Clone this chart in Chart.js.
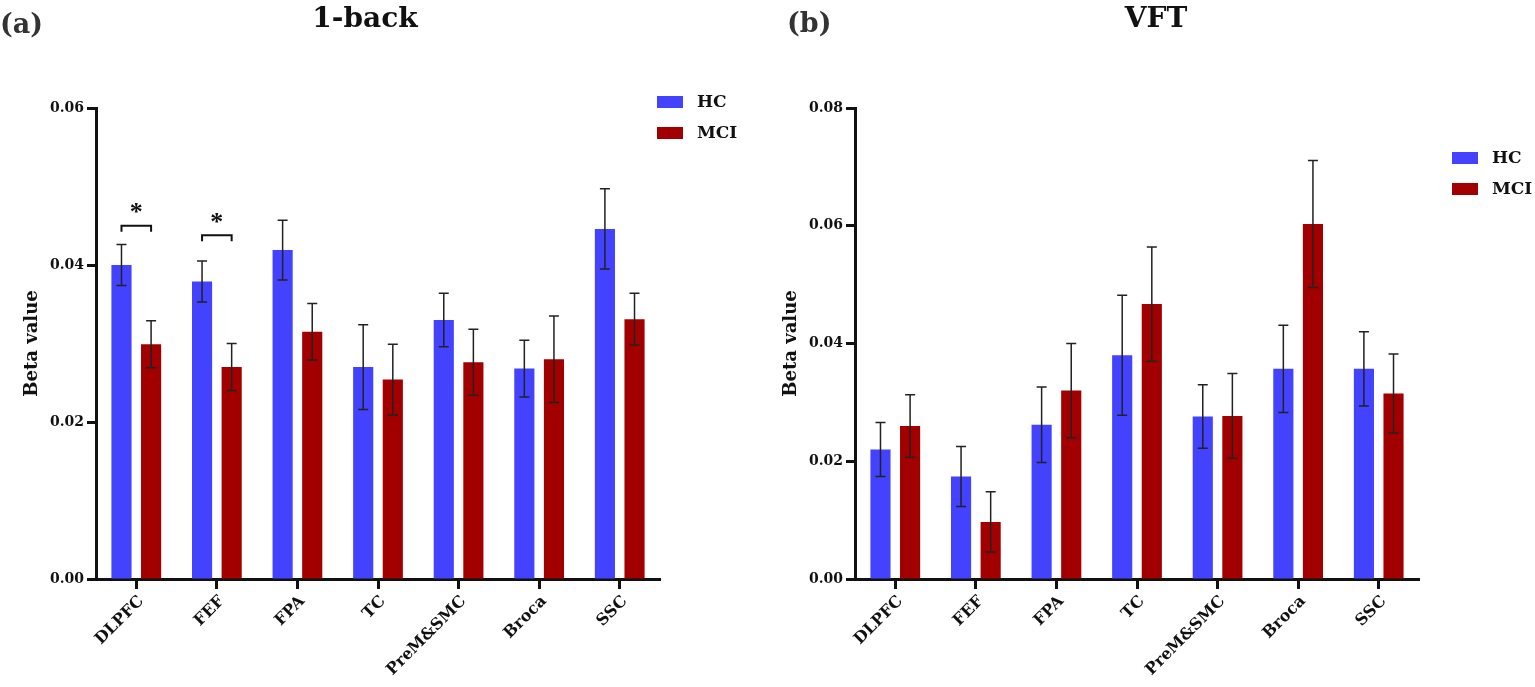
<!DOCTYPE html>
<html>
<head>
<meta charset="utf-8">
<title>1-back / VFT</title>
<script src="https://cdn.jsdelivr.net/npm/chart.js@4.4.1/dist/chart.umd.min.js"></script>
<style>
  html, body { margin: 0; padding: 0; background: #fff; }
  #wrap { position: relative; width: 1535px; height: 687px; }
  .panel { position: absolute; top: 0; height: 687px; }
</style>
</head>
<body>
<div id="wrap">
  <div class="panel" style="left:0;width:760px"><canvas id="graficoNback" width="760" height="687"></canvas></div>
  <div class="panel" style="left:760px;width:775px"><canvas id="graficoVFT" width="775" height="687"></canvas></div>
</div>
<script>
const regioes = ['DLPFC', 'FEF', 'FPA', 'TC', 'PreM&SMC', 'Broca', 'SSC'];
const grupos = ['HC', 'MCI'];

// 1-back
const nbackHC = [0.0400, 0.0379, 0.0419, 0.0270, 0.0330, 0.0268, 0.0446];
const nbackHCErr = [0.0026, 0.0026, 0.0038, 0.0054, 0.0034, 0.0036, 0.0051];
const nbackMCI = [0.0299, 0.0270, 0.0315, 0.0254, 0.0276, 0.0280, 0.0331];
const nbackMCIErr = [0.0030, 0.0030, 0.0036, 0.0045, 0.0042, 0.0055, 0.0033];
const nbackTicks = [0, 0.02, 0.04, 0.06];
const nbackSig = ['DLPFC', 'FEF'];
const nbackSigLevel = [0.0450, 0.0438];

// VFT
const vftHC = [0.0220, 0.0174, 0.0262, 0.0380, 0.0276, 0.0357, 0.0357];
const vftHCErr = [0.0046, 0.0051, 0.0064, 0.0102, 0.0054, 0.0074, 0.0063];
const vftMCI = [0.0260, 0.0097, 0.0320, 0.0467, 0.0277, 0.0603, 0.0315];
const vftMCIErr = [0.0053, 0.0051, 0.0080, 0.0097, 0.0072, 0.0108, 0.0067];
const vftTicks = [0, 0.02, 0.04, 0.06, 0.08];

const corHC = '#4242FF';
const corMCI = '#A20000';
const fonte = 'DejaVu Serif';
const preto = '#111';

// error bars, significance brackets, panel titles and legend
const desenho = {
    id: 'desenho',
    afterDatasetsDraw(chart, args, o) {
        const ctx = chart.ctx;
        const y = chart.scales.y;
        ctx.save();
        ctx.strokeStyle = '#222';
        ctx.lineWidth = 1.5;
        chart.data.datasets.forEach((ds, di) => {
            chart.getDatasetMeta(di).data.forEach((bar, i) => {
                const v = ds.data[i], e = o.erros[di][i];
                const yt = y.getPixelForValue(v + e), yb = y.getPixelForValue(v - e);
                ctx.beginPath();
                ctx.moveTo(bar.x, yt); ctx.lineTo(bar.x, yb);
                ctx.moveTo(bar.x - 5, yt); ctx.lineTo(bar.x + 5, yt);
                ctx.moveTo(bar.x - 5, yb); ctx.lineTo(bar.x + 5, yb);
                ctx.stroke();
            });
        });
        if (o.sig) {
            ctx.strokeStyle = preto;
            ctx.fillStyle = preto;
            ctx.lineWidth = 2;
            ctx.font = 'bold 26px "Liberation Serif"';
            ctx.textAlign = 'center';
            ctx.textBaseline = 'middle';
            o.sig.cats.forEach((c, k) => {
                const i = chart.data.labels.indexOf(c);
                const x1 = chart.getDatasetMeta(0).data[i].x;
                const x2 = chart.getDatasetMeta(1).data[i].x;
                const yy = y.getPixelForValue(o.sig.niveis[k]);
                ctx.beginPath();
                ctx.moveTo(x1, yy + 6); ctx.lineTo(x1, yy); ctx.lineTo(x2, yy); ctx.lineTo(x2, yy + 6);
                ctx.stroke();
                ctx.fillText('*', (x1 + x2) / 2, yy - 12);
            });
        }
        ctx.restore();
    },
    afterDraw(chart, args, o) {
        const ctx = chart.ctx;
        ctx.save();
        ctx.textBaseline = 'alphabetic';
        ctx.textAlign = 'left';
        ctx.fillStyle = '#333';
        ctx.font = 'bold 27px "' + fonte + '"';
        ctx.fillText(o.rotulo, o.rotuloX, o.rotuloY);
        ctx.fillStyle = preto;
        ctx.textAlign = 'center';
        ctx.font = 'bold 28px "' + fonte + '"';
        ctx.fillText(o.titulo, o.tituloX, o.tituloY);
        // legend
        ctx.textAlign = 'left';
        ctx.textBaseline = 'middle';
        ctx.font = 'bold 17px "' + fonte + '"';
        chart.data.datasets.forEach((ds, di) => {
            const yy = o.legY + di * 31;
            ctx.fillStyle = ds.backgroundColor;
            ctx.fillRect(o.legX, yy - 6, 26, 12);
            ctx.fillStyle = preto;
            ctx.fillText(ds.label, o.legX + 40, yy + 1);
        });
        ctx.restore();
    }
};

function eixos(maximo, ticks) {
    return {
        x: {
            afterFit: s => { s.height = 100; },
            ticks: {
                minRotation: 45, maxRotation: 45, padding: 3, labelOffset: 5, color: preto,
                font: {family: fonte, weight: 'bold', size: 16}
            },
            grid: {offset: false, drawOnChartArea: false, tickLength: 10, tickWidth: 3, color: preto},
            border: {width: 3, color: preto}
        },
        y: {
            min: 0,
            max: maximo,
            afterFit: s => { s.width = 78; },
            afterBuildTicks: s => { s.ticks = ticks.map(v => ({value: v})); },
            ticks: {
                padding: 3, color: preto,
                font: {family: fonte, weight: 'bold', size: 14},
                callback: v => v.toFixed(2)
            },
            grid: {drawOnChartArea: false, tickLength: 9, tickWidth: 3, color: preto},
            border: {width: 3, color: preto},
            title: {
                display: true, text: 'Beta value', color: preto, padding: {top: 4},
                font: {family: fonte, weight: 'bold', size: 18}
            }
        }
    };
}

new Chart(document.getElementById('graficoNback').getContext('2d'), {
    type: 'bar',
    data: {
        labels: regioes,
        datasets: [
            {label: grupos[0], data: nbackHC, backgroundColor: corHC, categoryPercentage: 0.735, barPercentage: 0.68},
            {label: grupos[1], data: nbackMCI, backgroundColor: corMCI, categoryPercentage: 0.735, barPercentage: 0.68}
        ]
    },
    options: {
        responsive: false,
        animation: false,
        devicePixelRatio: 1,
        layout: {padding: {left: 18, top: 108, right: 100, bottom: 8}},
        scales: eixos(0.06, nbackTicks),
        plugins: {
            legend: {display: false},
            tooltip: {enabled: false},
            desenho: {
                erros: [nbackHCErr, nbackMCIErr],
                sig: {cats: nbackSig, niveis: nbackSigLevel},
                rotulo: '(a)', rotuloX: 0, rotuloY: 33,
                titulo: '1-back', tituloX: 365, tituloY: 27,
                legX: 657, legY: 102
            }
        }
    },
    plugins: [desenho]
});

new Chart(document.getElementById('graficoVFT').getContext('2d'), {
    type: 'bar',
    data: {
        labels: regioes,
        datasets: [
            {label: grupos[0], data: vftHC, backgroundColor: corHC, categoryPercentage: 0.735, barPercentage: 0.68},
            {label: grupos[1], data: vftMCI, backgroundColor: corMCI, categoryPercentage: 0.735, barPercentage: 0.68}
        ]
    },
    options: {
        responsive: false,
        animation: false,
        devicePixelRatio: 1,
        layout: {padding: {left: 17, top: 108, right: 116, bottom: 8}},
        scales: eixos(0.08, vftTicks),
        plugins: {
            legend: {display: false},
            tooltip: {enabled: false},
            desenho: {
                erros: [vftHCErr, vftMCIErr],
                rotulo: '(b)', rotuloX: 27, rotuloY: 32,
                titulo: 'VFT', tituloX: 396, tituloY: 27,
                legX: 692, legY: 158
            }
        }
    },
    plugins: [desenho]
});
</script>
</body>
</html>
